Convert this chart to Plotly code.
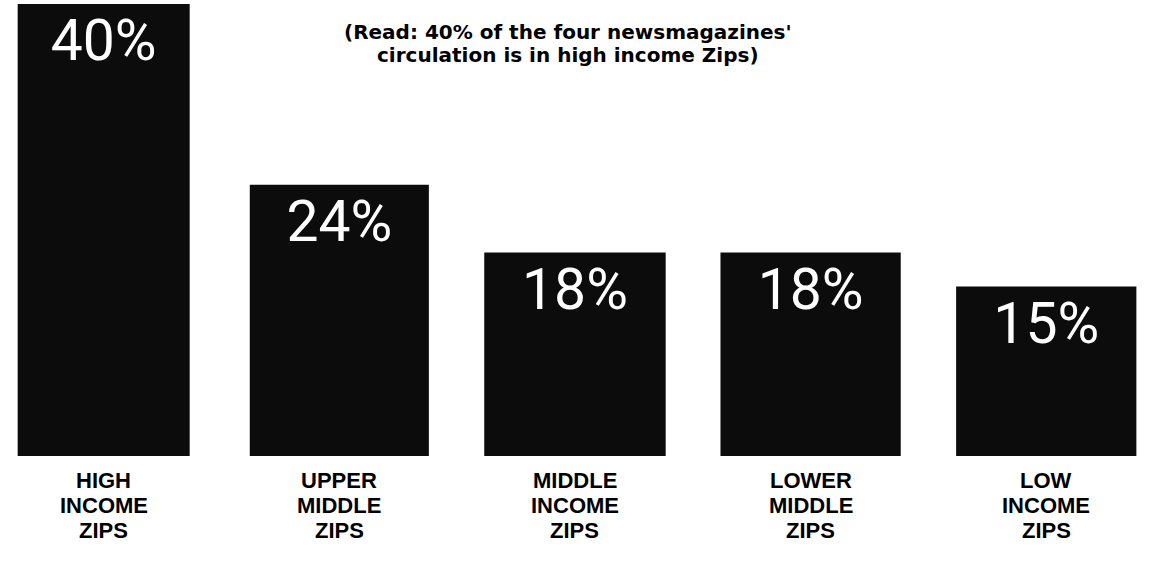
import plotly.graph_objects as go

# ---- data ----
categories = ["HIGH INCOME ZIPS", "UPPER MIDDLE ZIPS", "MIDDLE INCOME ZIPS",
              "LOWER MIDDLE ZIPS", "LOW INCOME ZIPS"]
label_lines = [["HIGH", "INCOME", "ZIPS"],
               ["UPPER", "MIDDLE", "ZIPS"],
               ["MIDDLE", "INCOME", "ZIPS"],
               ["LOWER", "MIDDLE", "ZIPS"],
               ["LOW", "INCOME", "ZIPS"]]
shares = [40, 24, 18, 18, 15]
value_labels = ["40%", "24%", "18%", "18%", "15%"]
note_lines = ["(Read: 40% of the four newsmagazines'",
              "circulation is in high income Zips)"]

# ---- styling ----
bar_widths = [0.73, 0.76, 0.77, 0.765, 0.765]

fig = go.Figure()
fig.add_trace(go.Bar(
    x=categories,
    y=shares,
    width=bar_widths,
    marker=dict(color="#0c0c0c", line=dict(width=0)),
    text=value_labels,
    textposition="inside",
    insidetextanchor="end",
    textangle=0,
    constraintext="none",
    textfont=dict(family="Roboto", size=57, color="white"),
    hoverinfo="skip",
))

annotations = []
# category labels, one annotation per line
for cat, lines in zip(categories, label_lines):
    for k, line in enumerate(lines):
        annotations.append(dict(
            x=cat, xref="x", y=0, yref="paper",
            yanchor="top", xanchor="center",
            yshift=-11 - 24.8 * k, borderpad=0,
            text=line, showarrow=False,
            font=dict(family="Liberation Sans", size=22, color="black", weight="bold"),
        ))
# reading note
for k, line in enumerate(note_lines):
    annotations.append(dict(
        x=568 / 1157, xref="paper", y=1, yref="paper",
        yanchor="top", xanchor="center",
        yshift=-15 - 22.5 * k, borderpad=0,
        text=line, showarrow=False,
        font=dict(family="DejaVu Sans", size=20, color="black", weight="bold"),
    ))

fig.update_layout(
    width=1157, height=562,
    margin=dict(l=0, r=0, t=4, b=106),
    paper_bgcolor="white", plot_bgcolor="white",
    showlegend=False,
    xaxis=dict(range=[-0.44, 4.47], showticklabels=False, showgrid=False,
               zeroline=False, showline=False, ticks=""),
    yaxis=dict(range=[0, 40], showticklabels=False, showgrid=False,
               zeroline=False, showline=False, ticks=""),
    annotations=annotations,
)

fig.write_html("out.html")
